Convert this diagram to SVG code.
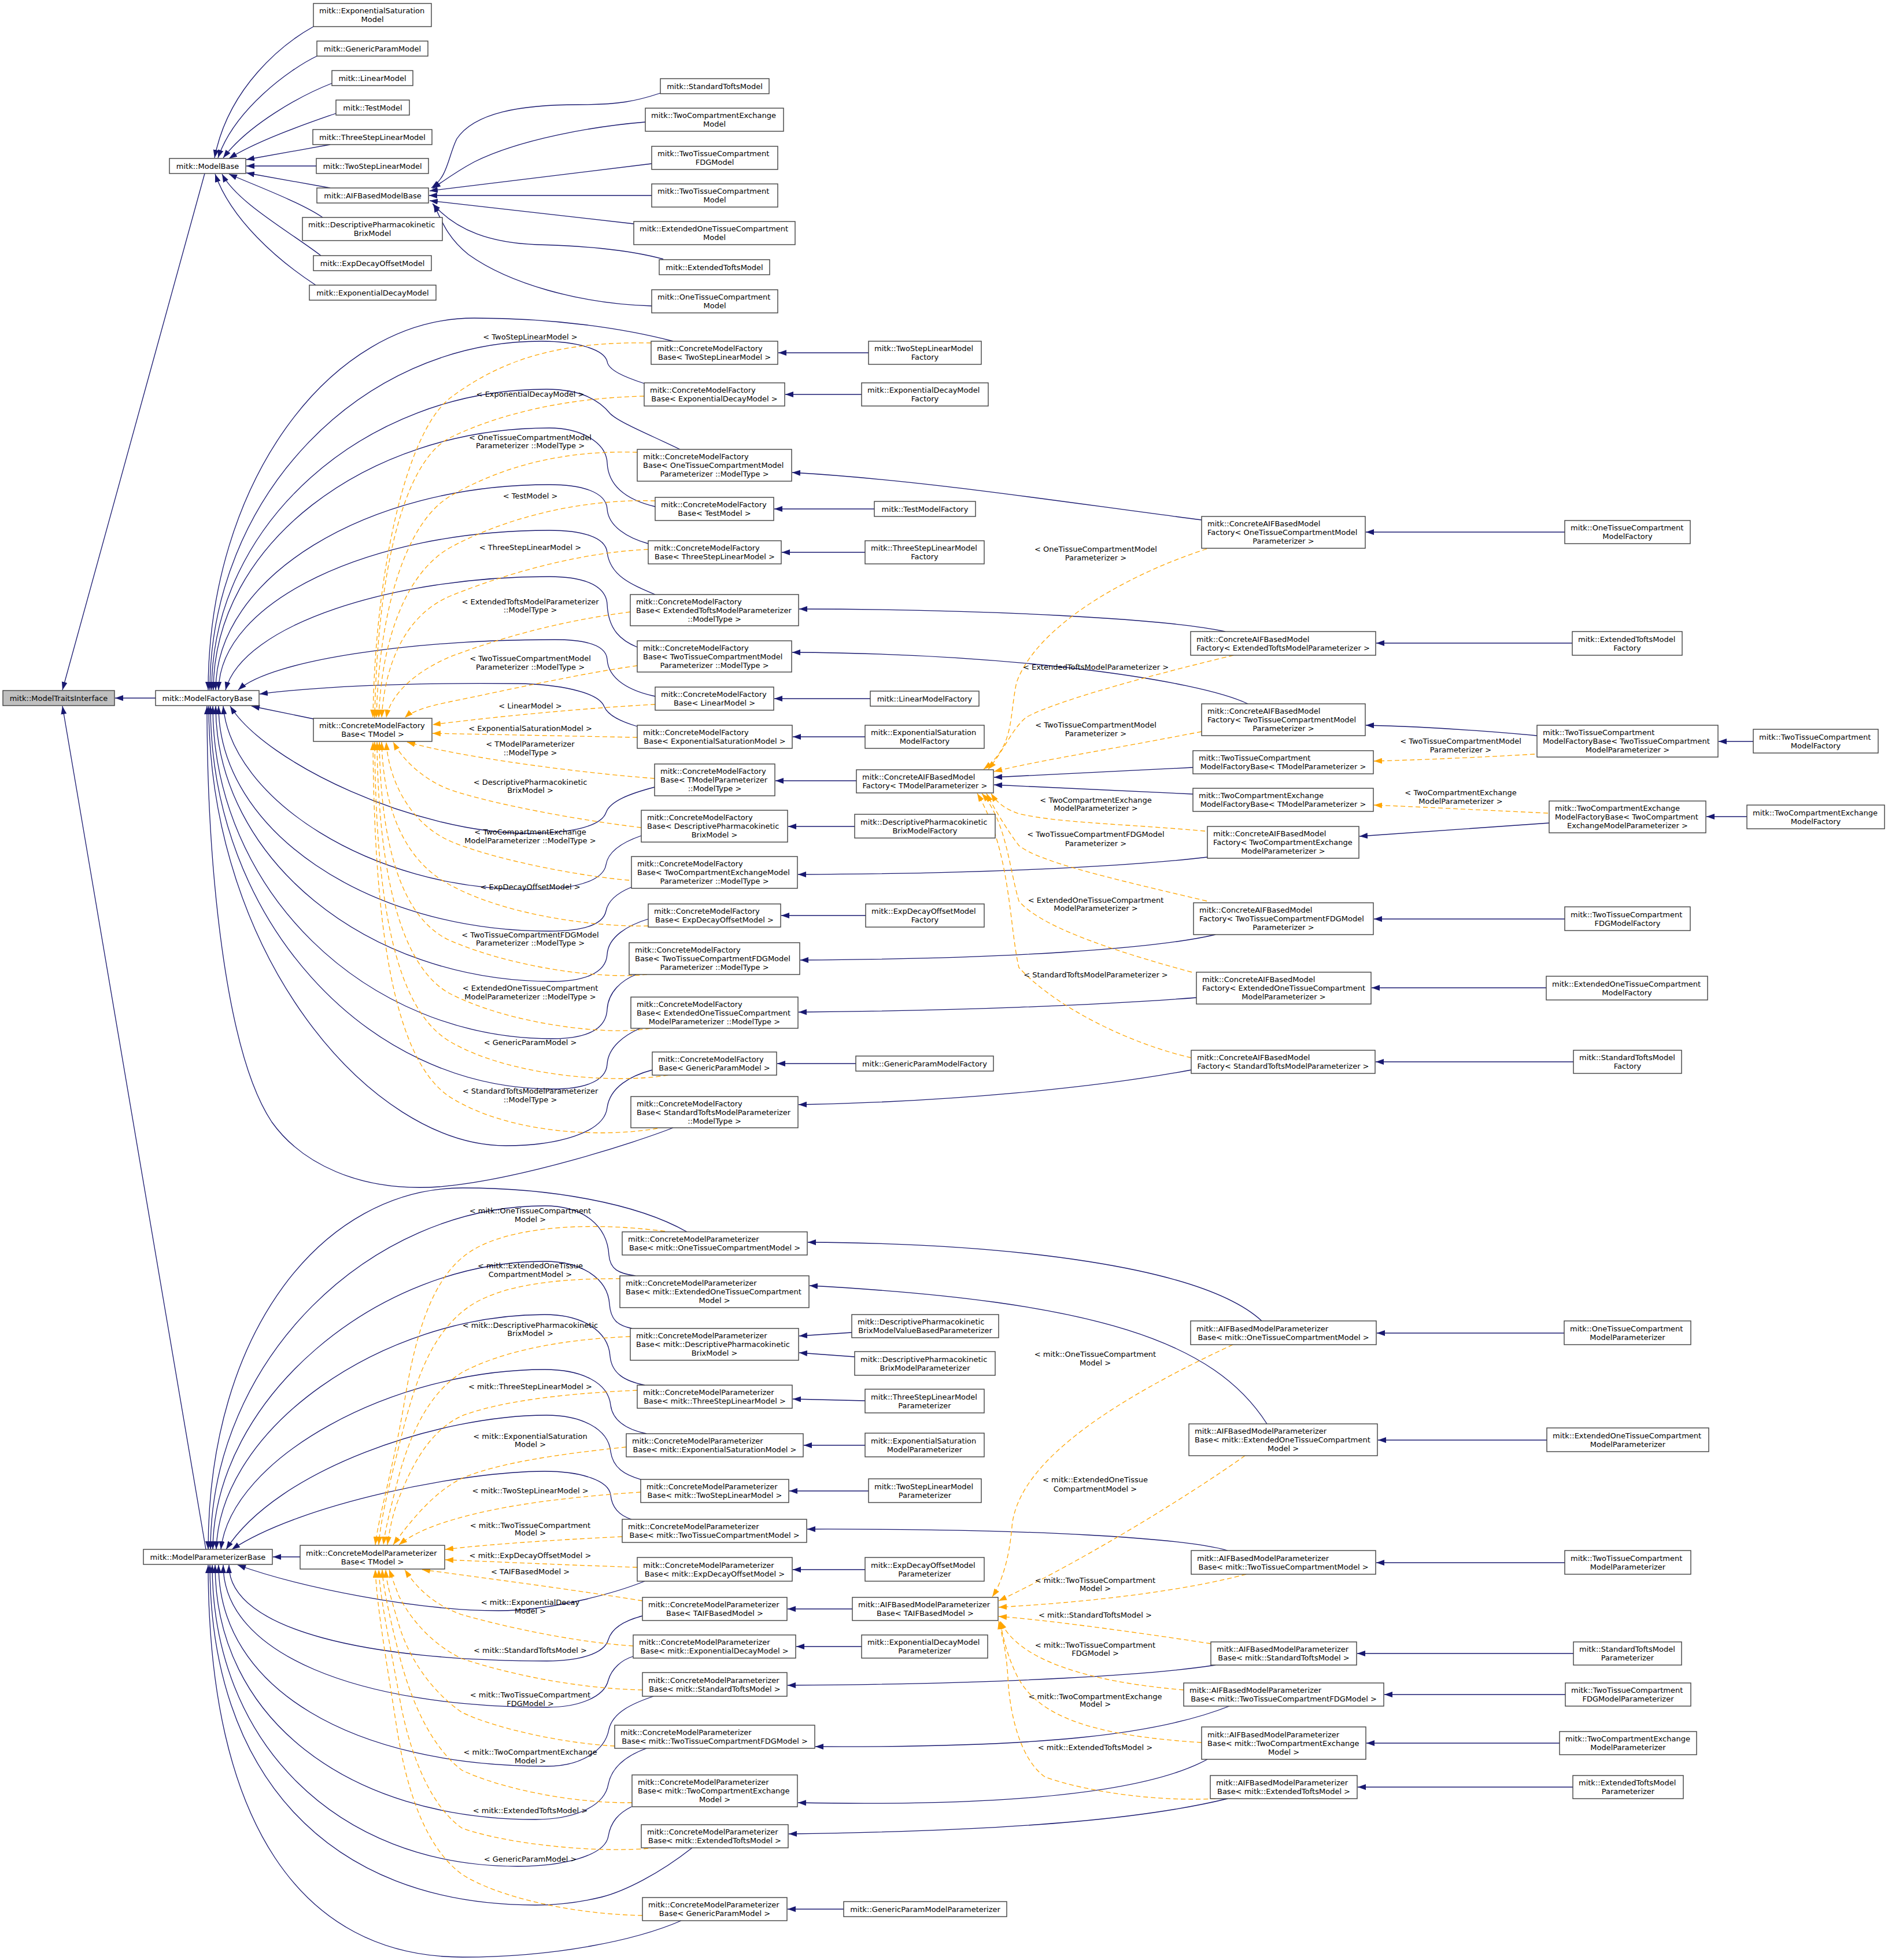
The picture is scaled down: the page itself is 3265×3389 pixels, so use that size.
<svg xmlns="http://www.w3.org/2000/svg" width="3265" height="3389" viewBox="0 0 3265 3389">
<style>
text{font-family:"DejaVu Sans","Liberation Sans",sans-serif;font-size:13px;fill:#000}
.n rect{fill:#fff;stroke:#404040;stroke-width:1.4}
.gr rect{fill:#bfbfbf}
.c{text-anchor:middle}
#edges path{fill:none}
.s{stroke:#191970;stroke-width:1.3;marker-end:url(#ab)}
.d{stroke:#ffa500;stroke-width:1.3;stroke-dasharray:8,5;marker-end:url(#ao)}
#labels text{text-anchor:middle}
</style>
<defs>
<marker id="ab" viewBox="0 0 14 10" refX="14" refY="5" markerWidth="14" markerHeight="10" markerUnits="userSpaceOnUse" orient="auto"><path d="M0,0 L14,5 L0,10 z" fill="#191970"/></marker>
<marker id="ao" viewBox="0 0 14 10" refX="14" refY="5" markerWidth="14" markerHeight="10" markerUnits="userSpaceOnUse" orient="auto"><path d="M0,0 L14,5 L0,10 z" fill="#ffa500"/></marker>
</defs>
<rect width="3265" height="3389" fill="#fff"/>
<g id="edges">
<path class="s" d="M354,300 L108,1193"/>
<path class="s" d="M269,1207 L199,1207"/>
<path class="s" d="M356,2679 L108,1221"/>
<path class="s" d="M542,46 C490,75 395,150 371,273"/>
<path class="s" d="M548,97 C500,120 405,190 377,273"/>
<path class="s" d="M574,144 C520,165 430,215 386,273"/>
<path class="s" d="M581,196 C550,207 450,240 396,274"/>
<path class="s" d="M571,250 L426,276"/>
<path class="s" d="M547,287 L426,287"/>
<path class="s" d="M571,325 L426,299"/>
<path class="s" d="M558,376 C520,350 440,320 396,301"/>
<path class="s" d="M555,442 C500,400 410,350 384,301"/>
<path class="s" d="M546,493 C480,450 400,380 372,301"/>
<path class="s" d="M1142,161 C1100,175 1070,181 1000,181 C900,181 820,195 790,240 C775,270 775,305 746,325"/>
<path class="s" d="M1116,211 C1030,218 900,240 820,280 C790,296 768,312 748,326"/>
<path class="s" d="M1127,283 L743,330"/>
<path class="s" d="M1127,338 L742,338"/>
<path class="s" d="M1096,387 L743,347"/>
<path class="s" d="M1147,448 C1080,430 1000,425 929,423 C850,420 790,400 748,352"/>
<path class="s" d="M1127,529 C1000,525 880,490 810,440 C775,412 765,385 750,353"/>
<path class="s" d="M1164,590 C1080,568 960,550 820,550 C567,550 360,840 360,1193"/>
<path class="s" d="M1114,663 C1080,652 1052,640 1050,625 C1045,605 1000,590 936,590 C621,590 363,862 363,1193"/>
<path class="s" d="M1176,777 C1120,750 1070,730 1055,715 C1035,690 1000,673 945,673 C630,673 366,907 366,1193"/>
<path class="s" d="M1133,876 C1091,866 1052,845 1050,800 C1048,765 1005,740 950,740 C631,740 369,944 369,1193"/>
<path class="s" d="M1121,940 C1085,930 1052,910 1050,880 C1048,850 1005,838 950,838 C633,838 373,998 373,1193"/>
<path class="s" d="M1133,1028 C1090,1010 1055,995 1050,955 C1047,928 1005,917 950,917 C640,917 380,1040 378,1193"/>
<path class="s" d="M1102,1119 C1075,1108 1052,1090 1050,1045 C1048,1010 1005,997 950,997 C680,997 420,1080 390,1193"/>
<path class="s" d="M1133,1204 C1090,1195 1052,1175 1050,1140 C1048,1115 1010,1106 959,1106 C720,1106 470,1140 412,1193"/>
<path class="s" d="M1102,1256 C1075,1248 1052,1238 1045,1222 C1035,1195 960,1183 896,1182 C700,1180 560,1186 449,1200"/>
<path class="s" d="M1132,1361 C1090,1372 1055,1385 1048,1405 C1040,1428 990,1441 914,1441 C720,1441 460,1320 398,1221"/>
<path class="s" d="M1109,1445 C1080,1455 1052,1470 1048,1495 C1043,1525 990,1538 914,1538 C640,1538 400,1380 386,1221"/>
<path class="s" d="M1092,1534 C1070,1543 1052,1555 1048,1575 C1043,1600 1005,1610 950,1610 C635,1610 378,1435 378,1221"/>
<path class="s" d="M1121,1589 C1085,1600 1052,1620 1050,1650 C1048,1685 1005,1697 955,1697 C633,1697 373,1483 373,1221"/>
<path class="s" d="M1100,1685 C1075,1695 1052,1715 1050,1745 C1048,1785 1005,1796 955,1796 C631,1796 368,1538 368,1221"/>
<path class="s" d="M1107,1778 C1080,1790 1052,1810 1050,1840 C1048,1872 1005,1883 955,1883 C630,1883 364,1586 364,1221"/>
<path class="s" d="M1128,1850 C1090,1860 1055,1880 1050,1915 C1045,1960 960,1981 875,1981 C640,1981 361,1650 361,1221"/>
<path class="s" d="M1164,1950 C1100,1975 900,2040 760,2052 C620,2062 520,2010 470,1940 C390,1820 358,1500 358,1221"/>
<path class="s" d="M542,1243 L435,1221"/>
<path class="d" d="M1126,593 C970,590 870,620 780,687 C700,747 648,1000 645,1241"/>
<path class="d" d="M1114,685 C980,688 865,715 780,756 C695,797 652,1000 648,1241"/>
<path class="d" d="M1102,782 C975,778 869,806 780,857 C700,903 655,1060 651,1241"/>
<path class="d" d="M1133,866 C1000,862 869,898 780,946 C705,987 660,1100 655,1241"/>
<path class="d" d="M1121,950 C1000,955 869,994 780,1030 C700,1063 665,1150 660,1241"/>
<path class="d" d="M1090,1058 C960,1075 860,1105 780,1135 C720,1160 675,1200 668,1241"/>
<path class="d" d="M1102,1151 C1000,1165 860,1197 780,1213 C740,1221 712,1230 700,1241"/>
<path class="d" d="M1133,1218 C1000,1225 850,1240 748,1253"/>
<path class="d" d="M1102,1275 C950,1272 850,1270 748,1268"/>
<path class="d" d="M1132,1346 C1000,1336 800,1310 704,1283"/>
<path class="d" d="M1109,1431 C1000,1418 850,1390 780,1366 C740,1352 700,1320 680,1283"/>
<path class="d" d="M1088,1522 C1000,1515 850,1485 780,1455 C710,1425 672,1350 668,1283"/>
<path class="d" d="M1121,1601 C1020,1603 870,1580 780,1531 C700,1490 663,1400 660,1283"/>
<path class="d" d="M1119,1685 C1030,1694 880,1670 780,1627 C690,1588 658,1450 656,1283"/>
<path class="d" d="M1124,1778 C1050,1792 880,1770 780,1719 C690,1673 654,1500 652,1283"/>
<path class="d" d="M1155,1859 C1060,1875 880,1860 780,1802 C680,1745 650,1550 648,1283"/>
<path class="d" d="M1137,1951 C1040,1968 880,1960 780,1898 C680,1835 647,1600 645,1283"/>
<path class="s" d="M1502,610 L1346,610"/>
<path class="s" d="M1490,682 L1358,682"/>
<path class="s" d="M1512,880 L1339,880"/>
<path class="s" d="M1496,955 L1352,955"/>
<path class="s" d="M1505,1208 L1339,1208"/>
<path class="s" d="M1496,1274 L1371,1274"/>
<path class="s" d="M1478,1429 L1363,1429"/>
<path class="s" d="M1497,1583 L1351,1583"/>
<path class="s" d="M1480,1839 L1344,1839"/>
<path class="s" d="M2706,920 L2362,920"/>
<path class="s" d="M2719,1112 L2380,1112"/>
<path class="s" d="M3032,1282 L2972,1282"/>
<path class="s" d="M3021,1412 L2951,1412"/>
<path class="s" d="M2706,1589 L2376,1589"/>
<path class="s" d="M2674,1708 L2372,1708"/>
<path class="s" d="M2721,1836 L2379,1836"/>
<path class="s" d="M1481,1350 L1341,1350"/>
<path class="s" d="M2078,899 C1850,870 1600,830 1370,817"/>
<path class="s" d="M2119,1092 C2020,1070 1700,1053 1382,1053"/>
<path class="s" d="M2158,1217 C2070,1175 1750,1130 1370,1128"/>
<path class="s" d="M2088,1482 C1950,1498 1700,1511 1380,1512"/>
<path class="s" d="M2102,1616 C2000,1640 1750,1658 1384,1660"/>
<path class="s" d="M2069,1725 C1900,1738 1650,1748 1381,1750"/>
<path class="s" d="M2060,1850 C1900,1880 1650,1905 1381,1910"/>
<path class="s" d="M2063,1327 L1719,1344"/>
<path class="s" d="M2063,1373 L1719,1357"/>
<path class="s" d="M2658,1272 C2550,1262 2450,1256 2362,1254"/>
<path class="s" d="M2679,1423 L2351,1446"/>
<path class="d" d="M2654,1304 C2550,1310 2450,1314 2376,1316"/>
<path class="d" d="M2677,1406 C2550,1400 2450,1395 2376,1392"/>
<path class="d" d="M2087,949 C1930,1000 1790,1090 1758,1180 C1745,1240 1755,1290 1701,1330"/>
<path class="d" d="M2133,1133 C2005,1164 1830,1210 1775,1240 C1750,1260 1735,1300 1709,1330"/>
<path class="d" d="M2078,1265 C1913,1297 1797,1315 1719,1334"/>
<path class="d" d="M2084,1437 C1936,1424 1832,1423 1762,1407 C1735,1398 1722,1385 1714,1372"/>
<path class="d" d="M2087,1558 C1913,1517 1797,1490 1762,1462 C1745,1440 1720,1400 1706,1372"/>
<path class="d" d="M2061,1681 C1913,1641 1797,1600 1762,1558 C1745,1500 1740,1420 1698,1372"/>
<path class="d" d="M2060,1829 C1960,1806 1830,1746 1762,1673 C1745,1600 1748,1470 1690,1372"/>
<path class="s" d="M1188,2130 C1100,2080 950,2054 800,2054 C560,2054 360,2300 360,2679"/>
<path class="s" d="M1099,2206 C1070,2202 1055,2195 1053,2170 C1050,2120 1010,2085 942,2085 C640,2085 364,2350 364,2679"/>
<path class="s" d="M1093,2297 C1068,2292 1056,2282 1054,2255 C1051,2210 1005,2181 942,2181 C650,2181 370,2420 368,2679"/>
<path class="s" d="M1115,2395 C1080,2388 1058,2375 1055,2345 C1052,2300 1005,2273 942,2273 C660,2273 380,2470 374,2679"/>
<path class="s" d="M1118,2479 C1085,2472 1060,2458 1056,2430 C1052,2390 1005,2368 942,2368 C680,2368 400,2520 382,2679"/>
<path class="s" d="M1108,2558 C1080,2550 1060,2538 1056,2510 C1052,2470 1005,2447 945,2447 C760,2447 480,2540 391,2679"/>
<path class="s" d="M1092,2627 C1070,2620 1058,2605 1056,2585 C1053,2560 1005,2544 942,2544 C800,2544 520,2600 401,2679"/>
<path class="s" d="M519,2692 L472,2692"/>
<path class="s" d="M1115,2734 C1070,2752 960,2785 862,2785 C720,2785 520,2745 411,2706"/>
<path class="s" d="M1111,2794 C1080,2802 1058,2815 1052,2835 C1045,2860 1000,2872 946,2872 C643,2872 395,2820 396,2706"/>
<path class="s" d="M1095,2864 C1075,2870 1058,2885 1052,2905 C1045,2935 1000,2952 946,2952 C620,2952 386,2860 386,2706"/>
<path class="s" d="M1130,2933 C1095,2945 1060,2960 1053,2990 C1046,3030 1000,3054 946,3054 C610,3054 378,2920 378,2706"/>
<path class="s" d="M1118,3023 C1085,3035 1058,3055 1052,3085 C1045,3125 990,3146 926,3146 C600,3146 372,2970 372,2706"/>
<path class="s" d="M1092,3124 C1070,3135 1056,3150 1052,3175 C1046,3210 970,3227 895,3227 C580,3227 367,3010 367,2706"/>
<path class="s" d="M1197,3195 C1140,3240 1080,3270 1041,3280 C1000,3290 960,3294 926,3294 C560,3294 363,3060 363,2706"/>
<path class="s" d="M1178,3321 C1100,3355 960,3384 800,3384 C520,3384 360,3150 360,2706"/>
<path class="s" d="M1473,2304 L1382,2310"/>
<path class="s" d="M1478,2346 L1382,2339"/>
<path class="s" d="M1496,2422 L1371,2419"/>
<path class="s" d="M1496,2499 L1390,2499"/>
<path class="s" d="M1502,2578 L1365,2578"/>
<path class="s" d="M1496,2714 L1371,2714"/>
<path class="s" d="M1490,2847 L1377,2847"/>
<path class="s" d="M1459,3301 L1362,3301"/>
<path class="s" d="M1474,2782 L1362,2782"/>
<path class="s" d="M2705,2305 L2381,2305"/>
<path class="s" d="M2675,2490 L2383,2490"/>
<path class="s" d="M2706,2702 L2380,2702"/>
<path class="s" d="M2721,2859 L2347,2859"/>
<path class="s" d="M2707,2930 L2394,2930"/>
<path class="s" d="M2697,3014 L2363,3014"/>
<path class="s" d="M2720,3090 L2348,3090"/>
<path class="s" d="M2182,2284 C2080,2190 1750,2150 1397,2148"/>
<path class="s" d="M2191,2462 C2100,2320 1900,2250 1400,2223"/>
<path class="s" d="M2123,2681 C2050,2660 1800,2643 1396,2644"/>
<path class="s" d="M2102,2879 C2000,2895 1750,2912 1362,2914"/>
<path class="s" d="M2126,2950 C2000,3000 1800,3022 1410,3020"/>
<path class="s" d="M2088,3042 C2000,3090 1800,3125 1380,3117"/>
<path class="s" d="M2123,3110 C2000,3140 1800,3165 1364,3171"/>
<path class="d" d="M2132,2325 C1950,2410 1760,2520 1750,2640 C1745,2700 1730,2740 1716,2761"/>
<path class="d" d="M2153,2517 C2050,2590 1870,2700 1727,2768"/>
<path class="d" d="M2155,2722 C2050,2750 1890,2770 1727,2779"/>
<path class="d" d="M2094,2842 C1950,2820 1800,2800 1727,2795"/>
<path class="d" d="M2047,2922 C1880,2908 1760,2870 1730,2803"/>
<path class="d" d="M2078,3013 C1890,3001 1797,2969 1760,2900 C1740,2860 1735,2830 1729,2803"/>
<path class="d" d="M2102,3110 C2008,3115 1890,3101 1808,3073 C1760,3040 1745,2950 1743,2900 C1740,2850 1732,2825 1727,2803"/>
<path class="d" d="M1150,2129 C1000,2110 880,2125 820,2160 C750,2200 720,2300 700,2420 C680,2540 655,2620 649,2671"/>
<path class="d" d="M1073,2211 C950,2210 860,2225 810,2260 C740,2310 715,2400 690,2500 C670,2580 658,2630 655,2671"/>
<path class="d" d="M1090,2311 C960,2316 860,2340 799,2373 C740,2410 710,2480 690,2551 C675,2610 667,2640 663,2671"/>
<path class="d" d="M1102,2404 C960,2410 860,2425 799,2448 C740,2475 710,2540 690,2590 C678,2620 673,2650 670,2671"/>
<path class="d" d="M1083,2502 C960,2515 860,2530 799,2556 C750,2580 710,2630 680,2671"/>
<path class="d" d="M1108,2580 C960,2590 860,2605 786,2627 C740,2640 710,2655 690,2671"/>
<path class="d" d="M1076,2657 C950,2663 850,2670 770,2679"/>
<path class="d" d="M1102,2710 C950,2705 850,2700 770,2697"/>
<path class="d" d="M1111,2768 C1000,2750 850,2730 730,2714"/>
<path class="d" d="M1095,2846 C1000,2840 880,2815 799,2792 C750,2775 720,2745 700,2714"/>
<path class="d" d="M1111,2922 C1000,2920 880,2895 799,2868 C740,2840 705,2790 690,2760 C682,2740 677,2725 673,2714"/>
<path class="d" d="M1063,3019 C980,3015 860,2990 799,2961 C740,2920 705,2860 690,2810 C675,2760 668,2735 667,2714"/>
<path class="d" d="M1093,3117 C980,3118 860,3090 799,3061 C745,3020 710,2940 690,2860 C672,2790 662,2740 661,2714"/>
<path class="d" d="M1134,3195 C1040,3205 880,3190 799,3161 C740,3120 705,3020 690,2930 C670,2820 657,2760 655,2714"/>
<path class="d" d="M1111,3312 C990,3310 860,3280 799,3241 C730,3190 700,3080 685,2980 C668,2870 652,2780 649,2714"/>
</g>
<g id="labels">
<text x="917" y="586.5">&lt; TwoStepLinearModel &gt;</text>
<text x="917" y="685.5">&lt; ExponentialDecayModel &gt;</text>
<text x="917" y="760.5">&lt; OneTissueCompartmentModel</text>
<text x="917" y="775">Parameterizer ::ModelType &gt;</text>
<text x="917" y="861.5">&lt; TestModel &gt;</text>
<text x="917" y="950.5">&lt; ThreeStepLinearModel &gt;</text>
<text x="917" y="1044.5">&lt; ExtendedToftsModelParameterizer</text>
<text x="917" y="1059">::ModelType &gt;</text>
<text x="917" y="1142.5">&lt; TwoTissueCompartmentModel</text>
<text x="917" y="1157.5">Parameterizer ::ModelType &gt;</text>
<text x="917" y="1224.5">&lt; LinearModel &gt;</text>
<text x="917" y="1263.5">&lt; ExponentialSaturationModel &gt;</text>
<text x="917" y="1290.5">&lt; TModelParameterizer</text>
<text x="917" y="1305.5">::ModelType &gt;</text>
<text x="917" y="1356.5">&lt; DescriptivePharmacokinetic</text>
<text x="917" y="1371">BrixModel &gt;</text>
<text x="917" y="1443">&lt; TwoCompartmentExchange</text>
<text x="917" y="1457.5">ModelParameterizer ::ModelType &gt;</text>
<text x="917" y="1537.5">&lt; ExpDecayOffsetModel &gt;</text>
<text x="917" y="1620.5">&lt; TwoTissueCompartmentFDGModel</text>
<text x="917" y="1635">Parameterizer ::ModelType &gt;</text>
<text x="917" y="1713">&lt; ExtendedOneTissueCompartment</text>
<text x="917" y="1727.5">ModelParameterizer ::ModelType &gt;</text>
<text x="917" y="1806.5">&lt; GenericParamModel &gt;</text>
<text x="917" y="1890.5">&lt; StandardToftsModelParameterizer</text>
<text x="917" y="1905.5">::ModelType &gt;</text>
<text x="1895" y="954">&lt; OneTissueCompartmentModel</text>
<text x="1895" y="969">Parameterizer &gt;</text>
<text x="1895" y="1157.5">&lt; ExtendedToftsModelParameterizer &gt;</text>
<text x="1895" y="1257.5">&lt; TwoTissueCompartmentModel</text>
<text x="1895" y="1272.5">Parameterizer &gt;</text>
<text x="1895" y="1387.5">&lt; TwoCompartmentExchange</text>
<text x="1895" y="1402">ModelParameterizer &gt;</text>
<text x="1895" y="1447">&lt; TwoTissueCompartmentFDGModel</text>
<text x="1895" y="1462.5">Parameterizer &gt;</text>
<text x="1895" y="1561">&lt; ExtendedOneTissueCompartment</text>
<text x="1895" y="1575">ModelParameterizer &gt;</text>
<text x="1895" y="1690">&lt; StandardToftsModelParameterizer &gt;</text>
<text x="2526" y="1286">&lt; TwoTissueCompartmentModel</text>
<text x="2526" y="1300.5">Parameterizer &gt;</text>
<text x="2526" y="1375">&lt; TwoCompartmentExchange</text>
<text x="2526" y="1389.5">ModelParameterizer &gt;</text>
<text x="917" y="2098">&lt; mitk::OneTissueCompartment</text>
<text x="917" y="2112.5">Model &gt;</text>
<text x="917" y="2193">&lt; mitk::ExtendedOneTissue</text>
<text x="917" y="2207.5">CompartmentModel &gt;</text>
<text x="917" y="2295.5">&lt; mitk::DescriptivePharmacokinetic</text>
<text x="917" y="2310">BrixModel &gt;</text>
<text x="917" y="2402">&lt; mitk::ThreeStepLinearModel &gt;</text>
<text x="917" y="2487.5">&lt; mitk::ExponentialSaturation</text>
<text x="917" y="2502">Model &gt;</text>
<text x="917" y="2581.5">&lt; mitk::TwoStepLinearModel &gt;</text>
<text x="917" y="2641.5">&lt; mitk::TwoTissueCompartment</text>
<text x="917" y="2655">Model &gt;</text>
<text x="917" y="2694">&lt; mitk::ExpDecayOffsetModel &gt;</text>
<text x="917" y="2722">&lt; TAIFBasedModel &gt;</text>
<text x="917" y="2774.5">&lt; mitk::ExponentialDecay</text>
<text x="917" y="2789.5">Model &gt;</text>
<text x="917" y="2857.5">&lt; mitk::StandardToftsModel &gt;</text>
<text x="917" y="2935">&lt; mitk::TwoTissueCompartment</text>
<text x="917" y="2949.5">FDGModel &gt;</text>
<text x="917" y="3034">&lt; mitk::TwoCompartmentExchange</text>
<text x="917" y="3048.5">Model &gt;</text>
<text x="917" y="3134.5">&lt; mitk::ExtendedToftsModel &gt;</text>
<text x="917" y="3218.5">&lt; GenericParamModel &gt;</text>
<text x="1894" y="2346">&lt; mitk::OneTissueCompartment</text>
<text x="1894" y="2361">Model &gt;</text>
<text x="1894" y="2563">&lt; mitk::ExtendedOneTissue</text>
<text x="1894" y="2578.5">CompartmentModel &gt;</text>
<text x="1894" y="2736.5">&lt; mitk::TwoTissueCompartment</text>
<text x="1894" y="2751">Model &gt;</text>
<text x="1894" y="2797">&lt; mitk::StandardToftsModel &gt;</text>
<text x="1894" y="2849">&lt; mitk::TwoTissueCompartment</text>
<text x="1894" y="2862.5">FDGModel &gt;</text>
<text x="1894" y="2937.5">&lt; mitk::TwoCompartmentExchange</text>
<text x="1894" y="2951">Model &gt;</text>
<text x="1894" y="3026">&lt; mitk::ExtendedToftsModel &gt;</text>
</g>
<g id="n1" class="n gr"><rect x="5" y="1194" width="193" height="26"/><text class="c" x="101.5" y="1211.5">mitk::ModelTraitsInterface</text></g>
<g id="n2" class="n"><rect x="293" y="274" width="132" height="26"/><text class="c" x="359" y="291.5">mitk::ModelBase</text></g>
<g id="n3" class="n"><rect x="269" y="1194" width="179" height="26"/><text class="c" x="358.5" y="1211.5">mitk::ModelFactoryBase</text></g>
<g id="n4" class="n"><rect x="248" y="2679" width="223" height="26"/><text class="c" x="359.5" y="2696.5">mitk::ModelParameterizerBase</text></g>
<g id="n5" class="n"><rect x="542" y="6" width="204" height="40"/><text x="552" y="23">mitk::ExponentialSaturation</text><text class="c" x="644" y="38">Model</text></g>
<g id="n6" class="n"><rect x="548" y="71" width="192" height="26"/><text class="c" x="644" y="88.5">mitk::GenericParamModel</text></g>
<g id="n7" class="n"><rect x="574" y="122" width="140" height="26"/><text class="c" x="644" y="139.5">mitk::LinearModel</text></g>
<g id="n8" class="n"><rect x="581" y="173" width="127" height="26"/><text class="c" x="644.5" y="190.5">mitk::TestModel</text></g>
<g id="n9" class="n"><rect x="541" y="224" width="206" height="26"/><text class="c" x="644" y="241.5">mitk::ThreeStepLinearModel</text></g>
<g id="n10" class="n"><rect x="547" y="274" width="194" height="26"/><text class="c" x="644" y="291.5">mitk::TwoStepLinearModel</text></g>
<g id="n11" class="n"><rect x="548" y="325" width="193" height="26"/><text class="c" x="644.5" y="342.5">mitk::AIFBasedModelBase</text></g>
<g id="n12" class="n"><rect x="523" y="376" width="242" height="40"/><text x="533" y="393">mitk::DescriptivePharmacokinetic</text><text class="c" x="644" y="408">BrixModel</text></g>
<g id="n13" class="n"><rect x="542" y="442" width="204" height="26"/><text class="c" x="644" y="459.5">mitk::ExpDecayOffsetModel</text></g>
<g id="n14" class="n"><rect x="535" y="493" width="219" height="26"/><text class="c" x="644.5" y="510.5">mitk::ExponentialDecayModel</text></g>
<g id="n15" class="n"><rect x="1142" y="136" width="188" height="26"/><text class="c" x="1236" y="153.5">mitk::StandardToftsModel</text></g>
<g id="n16" class="n"><rect x="1116" y="187" width="239" height="40"/><text x="1126" y="204">mitk::TwoCompartmentExchange</text><text class="c" x="1235.5" y="219">Model</text></g>
<g id="n17" class="n"><rect x="1127" y="253" width="218" height="40"/><text x="1137" y="270">mitk::TwoTissueCompartment</text><text class="c" x="1236" y="285">FDGModel</text></g>
<g id="n18" class="n"><rect x="1127" y="318" width="218" height="40"/><text x="1137" y="335">mitk::TwoTissueCompartment</text><text class="c" x="1236" y="350">Model</text></g>
<g id="n19" class="n"><rect x="1096" y="383" width="279" height="40"/><text x="1106" y="400">mitk::ExtendedOneTissueCompartment</text><text class="c" x="1235.5" y="415">Model</text></g>
<g id="n20" class="n"><rect x="1140" y="449" width="191" height="26"/><text class="c" x="1235.5" y="466.5">mitk::ExtendedToftsModel</text></g>
<g id="n21" class="n"><rect x="1127" y="501" width="218" height="40"/><text x="1137" y="518">mitk::OneTissueCompartment</text><text class="c" x="1236" y="533">Model</text></g>
<g id="n22" class="n"><rect x="542" y="1242" width="205" height="40"/><text x="552" y="1259">mitk::ConcreteModelFactory</text><text class="c" x="644.5" y="1274">Base&lt; TModel &gt;</text></g>
<g id="n23" class="n"><rect x="1126" y="590" width="219" height="40"/><text x="1136" y="607">mitk::ConcreteModelFactory</text><text class="c" x="1235.5" y="622">Base&lt; TwoStepLinearModel &gt;</text></g>
<g id="n24" class="n"><rect x="1114" y="662" width="243" height="40"/><text x="1124" y="679">mitk::ConcreteModelFactory</text><text class="c" x="1235.5" y="694">Base&lt; ExponentialDecayModel &gt;</text></g>
<g id="n25" class="n"><rect x="1102" y="777" width="267" height="55"/><text x="1112" y="794">mitk::ConcreteModelFactory</text><text x="1112" y="809">Base&lt; OneTissueCompartmentModel</text><text class="c" x="1235.5" y="824">Parameterizer ::ModelType &gt;</text></g>
<g id="n26" class="n"><rect x="1133" y="860" width="205" height="40"/><text x="1143" y="877">mitk::ConcreteModelFactory</text><text class="c" x="1235.5" y="892">Base&lt; TestModel &gt;</text></g>
<g id="n27" class="n"><rect x="1121" y="935" width="230" height="40"/><text x="1131" y="952">mitk::ConcreteModelFactory</text><text class="c" x="1236" y="967">Base&lt; ThreeStepLinearModel &gt;</text></g>
<g id="n28" class="n"><rect x="1090" y="1028" width="291" height="54"/><text x="1100" y="1044.5">mitk::ConcreteModelFactory</text><text x="1100" y="1059.5">Base&lt; ExtendedToftsModelParameterizer</text><text class="c" x="1235.5" y="1074.5">::ModelType &gt;</text></g>
<g id="n29" class="n"><rect x="1102" y="1108" width="267" height="54"/><text x="1112" y="1124.5">mitk::ConcreteModelFactory</text><text x="1112" y="1139.5">Base&lt; TwoTissueCompartmentModel</text><text class="c" x="1235.5" y="1154.5">Parameterizer ::ModelType &gt;</text></g>
<g id="n30" class="n"><rect x="1133" y="1188" width="205" height="40"/><text x="1143" y="1205">mitk::ConcreteModelFactory</text><text class="c" x="1235.5" y="1220">Base&lt; LinearModel &gt;</text></g>
<g id="n31" class="n"><rect x="1102" y="1254" width="268" height="40"/><text x="1112" y="1271">mitk::ConcreteModelFactory</text><text class="c" x="1236" y="1286">Base&lt; ExponentialSaturationModel &gt;</text></g>
<g id="n32" class="n"><rect x="1132" y="1321" width="208" height="55"/><text x="1142" y="1338">mitk::ConcreteModelFactory</text><text x="1142" y="1353">Base&lt; TModelParameterizer</text><text class="c" x="1236" y="1368">::ModelType &gt;</text></g>
<g id="n33" class="n"><rect x="1109" y="1401" width="253" height="55"/><text x="1119" y="1418">mitk::ConcreteModelFactory</text><text x="1119" y="1433">Base&lt; DescriptivePharmacokinetic</text><text class="c" x="1235.5" y="1448">BrixModel &gt;</text></g>
<g id="n34" class="n"><rect x="1092" y="1481" width="287" height="55"/><text x="1102" y="1498">mitk::ConcreteModelFactory</text><text x="1102" y="1513">Base&lt; TwoCompartmentExchangeModel</text><text class="c" x="1235.5" y="1528">Parameterizer ::ModelType &gt;</text></g>
<g id="n35" class="n"><rect x="1121" y="1563" width="229" height="40"/><text x="1131" y="1580">mitk::ConcreteModelFactory</text><text class="c" x="1235.5" y="1595">Base&lt; ExpDecayOffsetModel &gt;</text></g>
<g id="n36" class="n"><rect x="1088" y="1630" width="295" height="55"/><text x="1098" y="1647">mitk::ConcreteModelFactory</text><text x="1098" y="1662">Base&lt; TwoTissueCompartmentFDGModel</text><text class="c" x="1235.5" y="1677">Parameterizer ::ModelType &gt;</text></g>
<g id="n37" class="n"><rect x="1091" y="1724" width="289" height="54"/><text x="1101" y="1740.5">mitk::ConcreteModelFactory</text><text x="1101" y="1755.5">Base&lt; ExtendedOneTissueCompartment</text><text class="c" x="1235.5" y="1770.5">ModelParameterizer ::ModelType &gt;</text></g>
<g id="n38" class="n"><rect x="1128" y="1819" width="215" height="40"/><text x="1138" y="1836">mitk::ConcreteModelFactory</text><text class="c" x="1235.5" y="1851">Base&lt; GenericParamModel &gt;</text></g>
<g id="n39" class="n"><rect x="1091" y="1896" width="289" height="54"/><text x="1101" y="1912.5">mitk::ConcreteModelFactory</text><text x="1101" y="1927.5">Base&lt; StandardToftsModelParameterizer</text><text class="c" x="1235.5" y="1942.5">::ModelType &gt;</text></g>
<g id="n40" class="n"><rect x="1502" y="590" width="195" height="40"/><text x="1512" y="607">mitk::TwoStepLinearModel</text><text class="c" x="1599.5" y="622">Factory</text></g>
<g id="n41" class="n"><rect x="1490" y="662" width="219" height="40"/><text x="1500" y="679">mitk::ExponentialDecayModel</text><text class="c" x="1599.5" y="694">Factory</text></g>
<g id="n42" class="n"><rect x="1512" y="867" width="175" height="26"/><text class="c" x="1599.5" y="884.5">mitk::TestModelFactory</text></g>
<g id="n43" class="n"><rect x="1496" y="935" width="206" height="40"/><text x="1506" y="952">mitk::ThreeStepLinearModel</text><text class="c" x="1599" y="967">Factory</text></g>
<g id="n44" class="n"><rect x="1505" y="1195" width="188" height="26"/><text class="c" x="1599" y="1212.5">mitk::LinearModelFactory</text></g>
<g id="n45" class="n"><rect x="1496" y="1254" width="206" height="40"/><text x="1506" y="1271">mitk::ExponentialSaturation</text><text class="c" x="1599" y="1286">ModelFactory</text></g>
<g id="n46" class="n"><rect x="1478" y="1408" width="243" height="41"/><text x="1488" y="1425.5">mitk::DescriptivePharmacokinetic</text><text class="c" x="1599.5" y="1440.5">BrixModelFactory</text></g>
<g id="n47" class="n"><rect x="1497" y="1563" width="205" height="40"/><text x="1507" y="1580">mitk::ExpDecayOffsetModel</text><text class="c" x="1599.5" y="1595">Factory</text></g>
<g id="n48" class="n"><rect x="1480" y="1826" width="238" height="26"/><text class="c" x="1599" y="1843.5">mitk::GenericParamModelFactory</text></g>
<g id="n49" class="n"><rect x="2078" y="893" width="283" height="55"/><text x="2088" y="910">mitk::ConcreteAIFBasedModel</text><text x="2088" y="925">Factory&lt; OneTissueCompartmentModel</text><text class="c" x="2219.5" y="940">Parameterizer &gt;</text></g>
<g id="n50" class="n"><rect x="2706" y="900" width="217" height="40"/><text x="2716" y="917">mitk::OneTissueCompartment</text><text class="c" x="2814.5" y="932">ModelFactory</text></g>
<g id="n51" class="n"><rect x="2059" y="1092" width="320" height="41"/><text x="2069" y="1109.5">mitk::ConcreteAIFBasedModel</text><text class="c" x="2219" y="1124.5">Factory&lt; ExtendedToftsModelParameterizer &gt;</text></g>
<g id="n52" class="n"><rect x="2719" y="1092" width="190" height="41"/><text x="2729" y="1109.5">mitk::ExtendedToftsModel</text><text class="c" x="2814" y="1124.5">Factory</text></g>
<g id="n53" class="n"><rect x="2078" y="1217" width="283" height="55"/><text x="2088" y="1234">mitk::ConcreteAIFBasedModel</text><text x="2088" y="1249">Factory&lt; TwoTissueCompartmentModel</text><text class="c" x="2219.5" y="1264">Parameterizer &gt;</text></g>
<g id="n54" class="n"><rect x="2658" y="1254" width="313" height="55"/><text x="2668" y="1271">mitk::TwoTissueCompartment</text><text x="2668" y="1286">ModelFactoryBase&lt; TwoTissueCompartment</text><text class="c" x="2814.5" y="1301">ModelParameterizer &gt;</text></g>
<g id="n55" class="n"><rect x="3032" y="1261" width="216" height="41"/><text x="3042" y="1278.5">mitk::TwoTissueCompartment</text><text class="c" x="3140" y="1293.5">ModelFactory</text></g>
<g id="n56" class="n"><rect x="2063" y="1298" width="312" height="40"/><text x="2073" y="1315">mitk::TwoTissueCompartment</text><text class="c" x="2219" y="1330">ModelFactoryBase&lt; TModelParameterizer &gt;</text></g>
<g id="n57" class="n"><rect x="1481" y="1331" width="237" height="40"/><text x="1491" y="1348">mitk::ConcreteAIFBasedModel</text><text class="c" x="1599.5" y="1363">Factory&lt; TModelParameterizer &gt;</text></g>
<g id="n58" class="n"><rect x="2063" y="1363" width="312" height="40"/><text x="2073" y="1380">mitk::TwoCompartmentExchange</text><text class="c" x="2219" y="1395">ModelFactoryBase&lt; TModelParameterizer &gt;</text></g>
<g id="n59" class="n"><rect x="2679" y="1385" width="271" height="55"/><text x="2689" y="1402">mitk::TwoCompartmentExchange</text><text x="2689" y="1417">ModelFactoryBase&lt; TwoCompartment</text><text class="c" x="2814.5" y="1432">ExchangeModelParameterizer &gt;</text></g>
<g id="n60" class="n"><rect x="3021" y="1392" width="238" height="41"/><text x="3031" y="1409.5">mitk::TwoCompartmentExchange</text><text class="c" x="3140" y="1424.5">ModelFactory</text></g>
<g id="n61" class="n"><rect x="2088" y="1429" width="262" height="55"/><text x="2098" y="1446">mitk::ConcreteAIFBasedModel</text><text x="2098" y="1461">Factory&lt; TwoCompartmentExchange</text><text class="c" x="2219" y="1476">ModelParameterizer &gt;</text></g>
<g id="n62" class="n"><rect x="2064" y="1561" width="311" height="55"/><text x="2074" y="1578">mitk::ConcreteAIFBasedModel</text><text x="2074" y="1593">Factory&lt; TwoTissueCompartmentFDGModel</text><text class="c" x="2219.5" y="1608">Parameterizer &gt;</text></g>
<g id="n63" class="n"><rect x="2706" y="1568" width="217" height="41"/><text x="2716" y="1585.5">mitk::TwoTissueCompartment</text><text class="c" x="2814.5" y="1600.5">FDGModelFactory</text></g>
<g id="n64" class="n"><rect x="2069" y="1681" width="302" height="55"/><text x="2079" y="1698">mitk::ConcreteAIFBasedModel</text><text x="2079" y="1713">Factory&lt; ExtendedOneTissueCompartment</text><text class="c" x="2220" y="1728">ModelParameterizer &gt;</text></g>
<g id="n65" class="n"><rect x="2674" y="1688" width="279" height="41"/><text x="2684" y="1705.5">mitk::ExtendedOneTissueCompartment</text><text class="c" x="2813.5" y="1720.5">ModelFactory</text></g>
<g id="n66" class="n"><rect x="2060" y="1816" width="318" height="40"/><text x="2070" y="1833">mitk::ConcreteAIFBasedModel</text><text class="c" x="2219" y="1848">Factory&lt; StandardToftsModelParameterizer &gt;</text></g>
<g id="n67" class="n"><rect x="2721" y="1816" width="187" height="40"/><text x="2731" y="1833">mitk::StandardToftsModel</text><text class="c" x="2814.5" y="1848">Factory</text></g>
<g id="n68" class="n"><rect x="519" y="2672" width="250" height="41"/><text x="529" y="2689.5">mitk::ConcreteModelParameterizer</text><text class="c" x="644" y="2704.5">Base&lt; TModel &gt;</text></g>
<g id="n69" class="n"><rect x="1076" y="2130" width="320" height="40"/><text x="1086" y="2147">mitk::ConcreteModelParameterizer</text><text class="c" x="1236" y="2162">Base&lt; mitk::OneTissueCompartmentModel &gt;</text></g>
<g id="n70" class="n"><rect x="1072" y="2206" width="327" height="55"/><text x="1082" y="2223">mitk::ConcreteModelParameterizer</text><text x="1082" y="2238">Base&lt; mitk::ExtendedOneTissueCompartment</text><text class="c" x="1235.5" y="2253">Model &gt;</text></g>
<g id="n71" class="n"><rect x="1090" y="2297" width="291" height="55"/><text x="1100" y="2314">mitk::ConcreteModelParameterizer</text><text x="1100" y="2329">Base&lt; mitk::DescriptivePharmacokinetic</text><text class="c" x="1235.5" y="2344">BrixModel &gt;</text></g>
<g id="n72" class="n"><rect x="1102" y="2395" width="268" height="40"/><text x="1112" y="2412">mitk::ConcreteModelParameterizer</text><text class="c" x="1236" y="2427">Base&lt; mitk::ThreeStepLinearModel &gt;</text></g>
<g id="n73" class="n"><rect x="1083" y="2479" width="306" height="40"/><text x="1093" y="2496">mitk::ConcreteModelParameterizer</text><text class="c" x="1236" y="2511">Base&lt; mitk::ExponentialSaturationModel &gt;</text></g>
<g id="n74" class="n"><rect x="1108" y="2558" width="256" height="40"/><text x="1118" y="2575">mitk::ConcreteModelParameterizer</text><text class="c" x="1236" y="2590">Base&lt; mitk::TwoStepLinearModel &gt;</text></g>
<g id="n75" class="n"><rect x="1076" y="2627" width="319" height="40"/><text x="1086" y="2644">mitk::ConcreteModelParameterizer</text><text class="c" x="1235.5" y="2659">Base&lt; mitk::TwoTissueCompartmentModel &gt;</text></g>
<g id="n76" class="n"><rect x="1102" y="2693" width="268" height="41"/><text x="1112" y="2710.5">mitk::ConcreteModelParameterizer</text><text class="c" x="1236" y="2725.5">Base&lt; mitk::ExpDecayOffsetModel &gt;</text></g>
<g id="n77" class="n"><rect x="1111" y="2762" width="250" height="40"/><text x="1121" y="2779">mitk::ConcreteModelParameterizer</text><text class="c" x="1236" y="2794">Base&lt; TAIFBasedModel &gt;</text></g>
<g id="n78" class="n"><rect x="1095" y="2827" width="281" height="40"/><text x="1105" y="2844">mitk::ConcreteModelParameterizer</text><text class="c" x="1235.5" y="2859">Base&lt; mitk::ExponentialDecayModel &gt;</text></g>
<g id="n79" class="n"><rect x="1111" y="2892" width="250" height="41"/><text x="1121" y="2909.5">mitk::ConcreteModelParameterizer</text><text class="c" x="1236" y="2924.5">Base&lt; mitk::StandardToftsModel &gt;</text></g>
<g id="n80" class="n"><rect x="1063" y="2983" width="346" height="40"/><text x="1073" y="3000">mitk::ConcreteModelParameterizer</text><text class="c" x="1236" y="3015">Base&lt; mitk::TwoTissueCompartmentFDGModel &gt;</text></g>
<g id="n81" class="n"><rect x="1093" y="3069" width="286" height="55"/><text x="1103" y="3086">mitk::ConcreteModelParameterizer</text><text x="1103" y="3101">Base&lt; mitk::TwoCompartmentExchange</text><text class="c" x="1236" y="3116">Model &gt;</text></g>
<g id="n82" class="n"><rect x="1109" y="3155" width="254" height="40"/><text x="1119" y="3172">mitk::ConcreteModelParameterizer</text><text class="c" x="1236" y="3187">Base&lt; mitk::ExtendedToftsModel &gt;</text></g>
<g id="n83" class="n"><rect x="1111" y="3281" width="250" height="40"/><text x="1121" y="3298">mitk::ConcreteModelParameterizer</text><text class="c" x="1236" y="3313">Base&lt; GenericParamModel &gt;</text></g>
<g id="n84" class="n"><rect x="1473" y="2273" width="254" height="40"/><text x="1483" y="2290">mitk::DescriptivePharmacokinetic</text><text class="c" x="1600" y="2305">BrixModelValueBasedParameterizer</text></g>
<g id="n85" class="n"><rect x="1478" y="2337" width="243" height="41"/><text x="1488" y="2354.5">mitk::DescriptivePharmacokinetic</text><text class="c" x="1599.5" y="2369.5">BrixModelParameterizer</text></g>
<g id="n86" class="n"><rect x="1496" y="2402" width="206" height="41"/><text x="1506" y="2419.5">mitk::ThreeStepLinearModel</text><text class="c" x="1599" y="2434.5">Parameterizer</text></g>
<g id="n87" class="n"><rect x="1496" y="2478" width="206" height="41"/><text x="1506" y="2495.5">mitk::ExponentialSaturation</text><text class="c" x="1599" y="2510.5">ModelParameterizer</text></g>
<g id="n88" class="n"><rect x="1502" y="2557" width="195" height="41"/><text x="1512" y="2574.5">mitk::TwoStepLinearModel</text><text class="c" x="1599.5" y="2589.5">Parameterizer</text></g>
<g id="n89" class="n"><rect x="1496" y="2693" width="206" height="41"/><text x="1506" y="2710.5">mitk::ExpDecayOffsetModel</text><text class="c" x="1599" y="2725.5">Parameterizer</text></g>
<g id="n90" class="n"><rect x="1490" y="2827" width="218" height="40"/><text x="1500" y="2844">mitk::ExponentialDecayModel</text><text class="c" x="1599" y="2859">Parameterizer</text></g>
<g id="n91" class="n"><rect x="1459" y="3288" width="282" height="26"/><text class="c" x="1600" y="3305.5">mitk::GenericParamModelParameterizer</text></g>
<g id="n92" class="n"><rect x="2059" y="2284" width="321" height="41"/><text x="2069" y="2301.5">mitk::AIFBasedModelParameterizer</text><text class="c" x="2219.5" y="2316.5">Base&lt; mitk::OneTissueCompartmentModel &gt;</text></g>
<g id="n93" class="n"><rect x="2705" y="2284" width="219" height="41"/><text x="2715" y="2301.5">mitk::OneTissueCompartment</text><text class="c" x="2814.5" y="2316.5">ModelParameterizer</text></g>
<g id="n94" class="n"><rect x="2056" y="2462" width="326" height="55"/><text x="2066" y="2479">mitk::AIFBasedModelParameterizer</text><text x="2066" y="2494">Base&lt; mitk::ExtendedOneTissueCompartment</text><text class="c" x="2219" y="2509">Model &gt;</text></g>
<g id="n95" class="n"><rect x="2675" y="2469" width="280" height="41"/><text x="2685" y="2486.5">mitk::ExtendedOneTissueCompartment</text><text class="c" x="2815" y="2501.5">ModelParameterizer</text></g>
<g id="n96" class="n"><rect x="2060" y="2681" width="319" height="41"/><text x="2070" y="2698.5">mitk::AIFBasedModelParameterizer</text><text class="c" x="2219.5" y="2713.5">Base&lt; mitk::TwoTissueCompartmentModel &gt;</text></g>
<g id="n97" class="n"><rect x="2706" y="2681" width="218" height="41"/><text x="2716" y="2698.5">mitk::TwoTissueCompartment</text><text class="c" x="2815" y="2713.5">ModelParameterizer</text></g>
<g id="n98" class="n"><rect x="1474" y="2762" width="252" height="40"/><text x="1484" y="2779">mitk::AIFBasedModelParameterizer</text><text class="c" x="1600" y="2794">Base&lt; TAIFBasedModel &gt;</text></g>
<g id="n99" class="n"><rect x="2094" y="2839" width="252" height="40"/><text x="2104" y="2856">mitk::AIFBasedModelParameterizer</text><text class="c" x="2220" y="2871">Base&lt; mitk::StandardToftsModel &gt;</text></g>
<g id="n100" class="n"><rect x="2721" y="2839" width="187" height="40"/><text x="2731" y="2856">mitk::StandardToftsModel</text><text class="c" x="2814.5" y="2871">Parameterizer</text></g>
<g id="n101" class="n"><rect x="2047" y="2910" width="346" height="40"/><text x="2057" y="2927">mitk::AIFBasedModelParameterizer</text><text class="c" x="2220" y="2942">Base&lt; mitk::TwoTissueCompartmentFDGModel &gt;</text></g>
<g id="n102" class="n"><rect x="2707" y="2910" width="217" height="40"/><text x="2717" y="2927">mitk::TwoTissueCompartment</text><text class="c" x="2815.5" y="2942">FDGModelParameterizer</text></g>
<g id="n103" class="n"><rect x="2078" y="2986" width="284" height="56"/><text x="2088" y="3003.5">mitk::AIFBasedModelParameterizer</text><text x="2088" y="3018.5">Base&lt; mitk::TwoCompartmentExchange</text><text class="c" x="2220" y="3033.5">Model &gt;</text></g>
<g id="n104" class="n"><rect x="2697" y="2994" width="237" height="40"/><text x="2707" y="3011">mitk::TwoCompartmentExchange</text><text class="c" x="2815.5" y="3026">ModelParameterizer</text></g>
<g id="n105" class="n"><rect x="2093" y="3070" width="254" height="40"/><text x="2103" y="3087">mitk::AIFBasedModelParameterizer</text><text class="c" x="2220" y="3102">Base&lt; mitk::ExtendedToftsModel &gt;</text></g>
<g id="n106" class="n"><rect x="2720" y="3070" width="191" height="40"/><text x="2730" y="3087">mitk::ExtendedToftsModel</text><text class="c" x="2815.5" y="3102">Parameterizer</text></g>
</svg>
